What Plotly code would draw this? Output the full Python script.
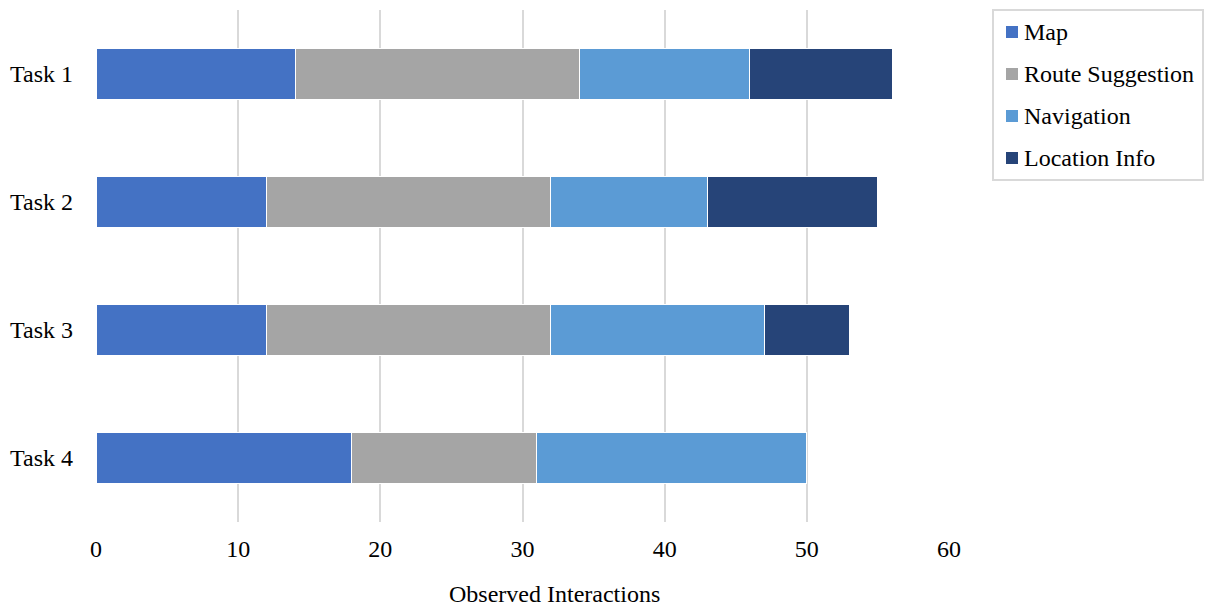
import plotly.graph_objects as go

# Observed interactions per task, split by interface feature
tasks = ["Task 1", "Task 2", "Task 3", "Task 4"]
map_vals = [14, 12, 12, 18]
route_vals = [20, 20, 20, 13]
nav_vals = [12, 11, 15, 19]
loc_vals = [10, 12, 6, 0]

series_names = ["Map", "Route Suggestion", "Navigation", "Location Info"]
series_vals = [map_vals, route_vals, nav_vals, loc_vals]
series_colors = ["#4472C4", "#A5A5A5", "#5B9BD5", "#264478"]
x_title = "Observed Interactions"

FAMILY = "Liberation Serif, Times New Roman, serif"
FS = 24

W, H = 1205, 610
M_L, M_R, M_T, M_B = 96, 256, 10, 88
PW, PH = W - M_L - M_R, H - M_T - M_B


def px_x(px):
    """Pixel column -> paper x."""
    return (px - M_L) / PW


def px_y(py):
    """Pixel row -> paper y."""
    return (H - M_B - py) / PH


fig = go.Figure()
for name, vals, color in zip(series_names, series_vals, series_colors):
    fig.add_trace(go.Bar(
        y=tasks, x=vals, name=name, orientation="h",
        marker=dict(color=color, line=dict(color="white", width=1)),
        width=0.4, showlegend=False,
    ))

# Boxed legend on the right
shapes = [dict(
    type="rect", xref="paper", yref="paper",
    x0=px_x(993), x1=px_x(1203), y0=px_y(180), y1=px_y(10),
    line=dict(color="#D9D9D9", width=2), fillcolor="white", layer="above",
)]
annotations = []
row_y = [32, 74, 116, 158]
for name, color, ry in zip(series_names, series_colors, row_y):
    shapes.append(dict(
        type="rect", xref="paper", yref="paper",
        x0=px_x(1006), x1=px_x(1018), y0=px_y(ry + 6), y1=px_y(ry - 6),
        line=dict(width=0), fillcolor=color, layer="above",
    ))
    annotations.append(dict(
        xref="paper", yref="paper", x=px_x(1022), y=px_y(ry),
        xanchor="left", yanchor="middle", showarrow=False, text=name,
        font=dict(family=FAMILY, size=FS, color="#000000"),
    ))

# Horizontal axis title
annotations.append(dict(
    xref="paper", yref="paper", x=px_x(554), y=px_y(594),
    xanchor="center", yanchor="middle", showarrow=False, text=x_title,
    font=dict(family=FAMILY, size=FS, color="#000000"),
))

fig.update_layout(
    barmode="stack",
    width=W, height=H,
    margin=dict(l=M_L, r=M_R, t=M_T, b=M_B),
    paper_bgcolor="white", plot_bgcolor="white",
    font=dict(family=FAMILY, size=FS, color="#000000"),
    showlegend=False,
    shapes=shapes,
    annotations=annotations,
    xaxis=dict(
        range=[0, 60], dtick=10, showgrid=True, gridcolor="#D9D9D9", gridwidth=2,
        zeroline=False, showline=False, ticks="", automargin=False,
        ticklabelstandoff=10,
        tickfont=dict(family=FAMILY, size=FS),
    ),
    yaxis=dict(
        categoryorder="array", categoryarray=tasks, autorange="reversed",
        showgrid=False, zeroline=False, showline=False, ticks="", automargin=False,
        ticklabelstandoff=22,
        tickfont=dict(family=FAMILY, size=FS),
    ),
)

fig.write_html("out.html")
